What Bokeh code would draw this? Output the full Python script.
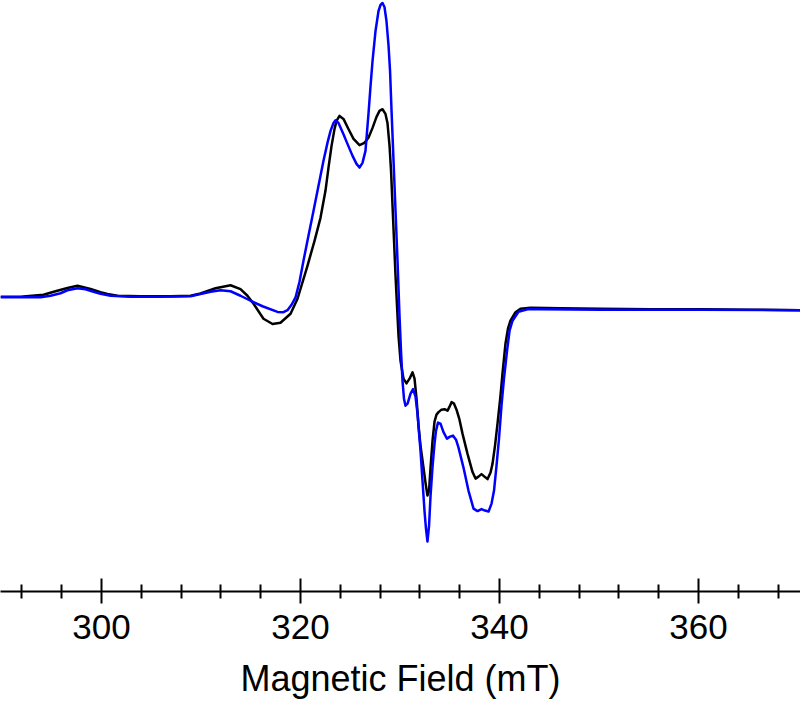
from bokeh.plotting import figure
from bokeh.models import Range1d, FixedTicker
from bokeh.embed import file_html
from bokeh.resources import INLINE

# Magnetic field (mT) and intensity (arb. units)
field_black = [289.85, 291.86, 294.17, 295.38, 296.58, 297.59, 298.90, 299.90, 300.60, 301.61,
               303.92, 306.94, 308.95, 309.95, 311.46, 312.97, 313.97, 314.67, 315.28, 316.28,
               317.19, 317.99, 319.00, 319.70, 320.70, 321.41, 322.01, 322.51, 322.81, 323.12,
               323.42, 323.62, 323.92, 324.32, 324.83, 325.33, 325.93, 326.43, 326.84, 327.24,
               327.64, 327.94, 328.24, 328.54, 328.74, 328.95, 329.10, 329.25, 329.40, 329.55,
               329.70, 329.85, 330.05, 330.35, 330.65, 330.96, 331.26, 331.46, 331.66, 331.86,
               332.06, 332.36, 332.56, 332.76, 332.92, 333.07, 333.27, 333.47, 333.67, 333.87,
               334.17, 334.47, 334.78, 334.98, 335.18, 335.43, 335.68, 335.98, 336.28, 336.78,
               337.29, 337.59, 337.89, 338.19, 338.49, 338.80, 339.10, 339.30, 339.55, 339.80,
               340.10, 340.30, 340.60, 340.85, 341.10, 341.61, 342.11, 343.12, 346.13, 350.15,
               355.18, 360.20, 365.23, 370.25]
int_black = [0.00, 0.00, 0.02, 0.055, 0.087, 0.11, 0.077, 0.045, 0.027, 0.01,
             0.005, 0.005, 0.01, 0.033, 0.085, 0.115, 0.077, 0.01, -0.07, -0.22,
             -0.273, -0.26, -0.17, -0.02, 0.31, 0.56, 0.79, 1.06, 1.29, 1.51,
             1.68, 1.76, 1.81, 1.78, 1.677, 1.58, 1.517, 1.54, 1.593, 1.69,
             1.80, 1.86, 1.877, 1.83, 1.74, 1.51, 1.26, 0.91, 0.56, 0.21,
             -0.09, -0.39, -0.64, -0.82, -0.867, -0.82, -0.757, -0.82, -1.02, -1.29,
             -1.49, -1.71, -1.86, -1.99, -1.94, -1.71, -1.44, -1.25, -1.18, -1.155,
             -1.13, -1.125, -1.14, -1.10, -1.055, -1.07, -1.13, -1.23, -1.37, -1.57,
             -1.755, -1.82, -1.80, -1.775, -1.80, -1.825, -1.76, -1.67, -1.49, -1.27,
             -0.99, -0.77, -0.47, -0.32, -0.24, -0.155, -0.12, -0.11, -0.115, -0.12,
             -0.125, -0.125, -0.13, -0.135]

field_blue = [289.85, 293.87, 294.88, 295.88, 296.58, 297.59, 298.39, 299.20, 299.90, 300.91,
              302.92, 305.93, 308.95, 309.95, 310.96, 311.96, 312.97, 313.97, 314.98, 316.18,
              317.69, 318.29, 318.69, 319.10, 319.50, 319.90, 320.30, 320.80, 321.31, 321.81,
              322.31, 322.71, 323.02, 323.32, 323.52, 323.82, 324.32, 324.72, 325.23, 325.63,
              325.93, 326.23, 326.53, 326.84, 327.04, 327.24, 327.54, 327.84, 328.04, 328.24,
              328.44, 328.64, 328.85, 329.00, 329.15, 329.35, 329.55, 329.75, 329.95, 330.10,
              330.25, 330.40, 330.55, 330.76, 331.06, 331.31, 331.56, 331.76, 332.06, 332.26,
              332.46, 332.61, 332.76, 332.92, 333.07, 333.27, 333.47, 333.62, 333.82, 334.07,
              334.37, 334.72, 335.03, 335.33, 335.63, 335.88, 336.38, 336.88, 337.39, 337.79,
              338.19, 338.54, 338.90, 339.20, 339.45, 339.70, 339.95, 340.20, 340.45, 340.76,
              341.01, 341.31, 341.91, 342.82, 344.12, 350.15, 360.20, 370.25]
int_blue = [-0.005, -0.005, 0.01, 0.035, 0.065, 0.085, 0.075, 0.05, 0.03, 0.01,
            0.00, 0.00, 0.005, 0.027, 0.05, 0.065, 0.055, 0.01, -0.04, -0.095,
            -0.152, -0.155, -0.135, -0.08, -0.007, 0.15, 0.36, 0.61, 0.86, 1.11,
            1.36, 1.54, 1.66, 1.74, 1.767, 1.74, 1.627, 1.53, 1.41, 1.33,
            1.293, 1.34, 1.46, 1.84, 2.11, 2.36, 2.66, 2.86, 2.92, 2.94,
            2.90, 2.76, 2.51, 2.26, 1.86, 1.36, 0.86, 0.36, -0.19, -0.54,
            -0.84, -1.02, -1.09, -1.07, -0.97, -0.925, -1.00, -1.17, -1.54, -1.84,
            -2.14, -2.32, -2.45, -2.29, -1.99, -1.70, -1.47, -1.34, -1.26, -1.27,
            -1.355, -1.42, -1.40, -1.39, -1.43, -1.51, -1.71, -1.94, -2.12, -2.145,
            -2.125, -2.14, -2.15, -2.07, -1.94, -1.69, -1.42, -1.09, -0.82, -0.54,
            -0.34, -0.24, -0.15, -0.125, -0.125, -0.13, -0.13, -0.135]

major_ticks = [300, 320, 340, 360]
minor_ticks = [292, 296, 304, 308, 312, 316, 324, 328, 332, 336, 344, 348, 352, 356, 364, 368]
x_title = "Magnetic Field (mT)"

p = figure(width=800, height=711, output_backend="svg", toolbar_location=None,
           x_range=Range1d(289.85, 370.25), y_range=Range1d(-2.95, 2.965),
           y_axis_location=None,
           min_border_left=0, min_border_right=0, min_border_top=0, min_border_bottom=120)
p.outline_line_color = None
p.grid.visible = False
p.background_fill_color = "white"
p.border_fill_color = "white"

p.line(field_black, int_black, line_color="#000000", line_width=2.5, line_join="round")
p.line(field_blue, int_blue, line_color="#0000FF", line_width=2.5, line_join="round")

ax = p.xaxis[0]
ax.ticker = FixedTicker(ticks=major_ticks, minor_ticks=minor_ticks)
ax.axis_label = x_title
ax.axis_line_color = "black"
ax.axis_line_width = 2
ax.major_tick_line_color = "black"
ax.major_tick_line_width = 2
ax.major_tick_out = 12
ax.major_tick_in = 13
ax.minor_tick_line_color = "black"
ax.minor_tick_line_width = 2
ax.minor_tick_out = 7
ax.minor_tick_in = 7
ax.major_label_text_font = "Liberation Sans"
ax.major_label_text_font_size = "35px"
ax.major_label_text_color = "black"
ax.major_label_standoff = 11
ax.axis_label_text_font = "Liberation Sans"
ax.axis_label_text_font_size = "36px"
ax.axis_label_text_font_style = "normal"
ax.axis_label_text_color = "black"
ax.axis_label_standoff = 16

open("out.html", "w").write(file_html(p, INLINE))
